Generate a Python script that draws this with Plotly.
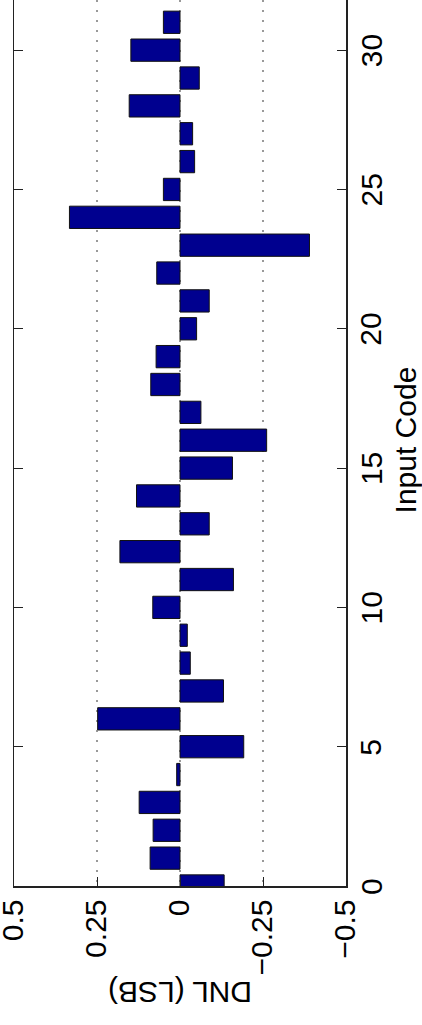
import plotly.graph_objects as go

codes = list(range(32))
dnl = [-0.133, 0.090, 0.081, 0.123, 0.010, -0.192, 0.248, -0.131,
       -0.031, -0.022, 0.082, -0.161, 0.181, -0.088, 0.131, -0.158,
       -0.261, -0.063, 0.088, 0.072, -0.050, -0.088, 0.070, -0.390,
       0.333, 0.050, -0.044, -0.038, 0.153, -0.058, 0.148, 0.050]

dnl_ticks = [0.5, 0.25, 0, -0.25, -0.5]
dnl_ticktext = ["0.5", "0.25", "0", "\u22120.25", "\u22120.5"]
code_ticks = [0, 5, 10, 15, 20, 25, 30]
code_ticktext = ["0", "5", "10", "15", "20", "25", "30"]

FONT = "Liberation Sans, Arial, Helvetica, sans-serif"

fig = go.Figure()
fig.add_trace(go.Bar(
    x=dnl, y=codes, orientation="h", width=0.8,
    marker=dict(color="#00008F", line=dict(color="#111111", width=1)),
    showlegend=False,
))

annotations = [
    dict(text="Input Code", xref="paper", yref="paper", x=1.178, y=0.503,
         textangle=-90, showarrow=False, xanchor="center", yanchor="middle",
         font=dict(size=30)),
    dict(text="DNL (LSB)", xref="paper", yref="paper", x=0.5, y=-0.1196,
         textangle=180, showarrow=False, xanchor="center", yanchor="middle",
         font=dict(size=30)),
]
for v, t in zip(code_ticks, code_ticktext):
    annotations.append(dict(text=t, xref="paper", yref="y", x=1.0753, y=v,
                            textangle=-90, showarrow=False, xanchor="center",
                            yanchor="middle", font=dict(size=30)))

fig.update_layout(
    width=422, height=1025, autosize=False,
    margin=dict(l=14, r=76, t=0, b=139, pad=0),
    paper_bgcolor="white", plot_bgcolor="white",
    font=dict(family=FONT, size=30, color="black"),
    bargap=0,
    xaxis=dict(
        range=[0.5, -0.5], tickvals=dnl_ticks, ticktext=dnl_ticktext,
        tickangle=-90, ticks="inside", ticklen=9, tickcolor="#222222",
        showgrid=True, gridcolor="#999999", griddash="2px,8px", gridwidth=1.2,
        zeroline=False, showline=True, linecolor="#222222", linewidth=1.5,
        mirror=False, tickfont=dict(size=30), automargin=False,
        ticklabeloverflow="allow", ticklabelshift=1,
    ),
    yaxis=dict(
        range=[0, 31.8], side="right", tickvals=code_ticks,
        showticklabels=False, ticks="inside", ticklen=9, tickcolor="#222222",
        showgrid=False, zeroline=False, showline=True, linecolor="#222222",
        linewidth=1.5, mirror="ticks", automargin=False,
    ),
    annotations=annotations,
)

fig.write_html("out.html",
               config={"displayModeBar": False, "staticPlot": True},
               post_script="document.body.style.margin='0';document.body.style.padding='0';")
